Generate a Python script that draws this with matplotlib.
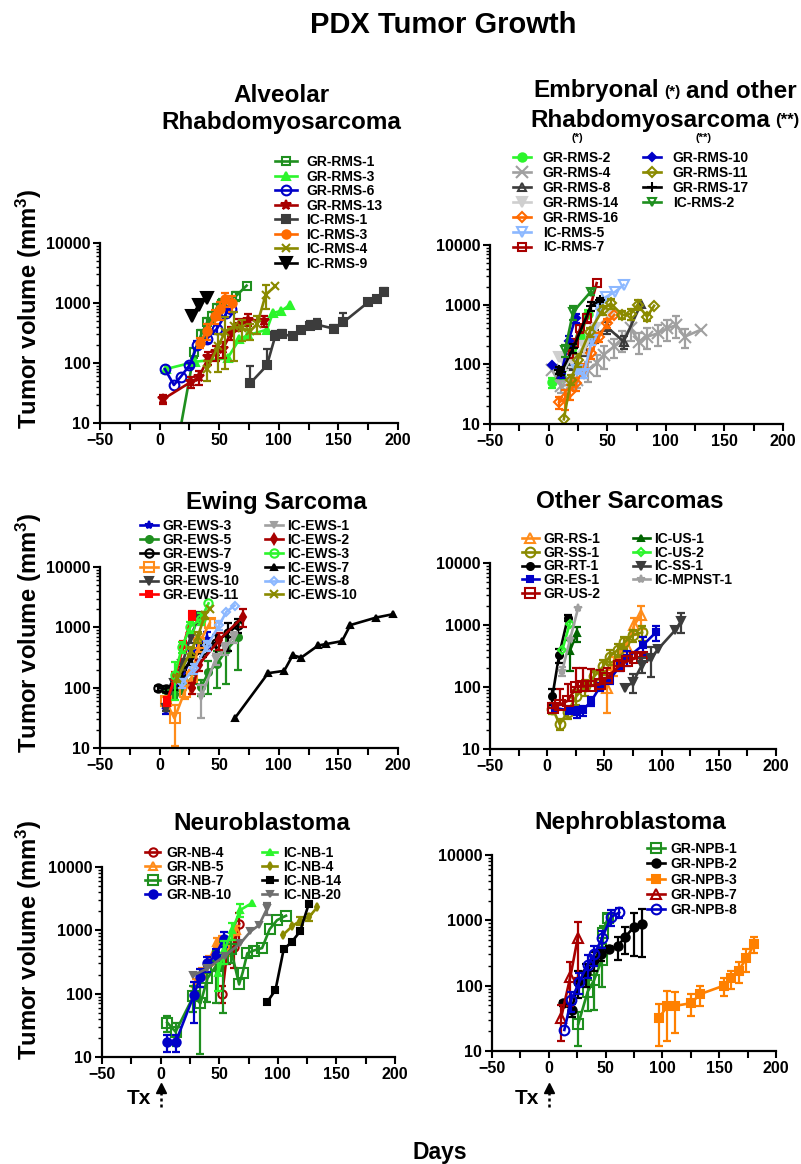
"""
PDX Tumor Growth - six panels of tumour volume vs days, log scale.
"""

import numpy as np
import matplotlib
matplotlib.use('Agg')
import matplotlib.pyplot as plt
import matplotlib.transforms as mtransforms
from matplotlib.ticker import MultipleLocator, FixedLocator, FixedFormatter, LogLocator, NullFormatter

plt.rcParams['font.family'] = ['Liberation Sans', 'DejaVu Sans']
plt.rcParams['font.weight'] = 'bold'
plt.rcParams['mathtext.fontset'] = 'custom'
plt.rcParams['mathtext.rm'] = 'Liberation Sans:bold'
plt.rcParams['mathtext.default'] = 'rm'

# ---------------- data ----------------
x_ticks = [-50, 0, 50, 100, 150, 200]
y_ticks = [10, 100, 1000, 10000]
y_tick_labels = ['10', '100', '1000', '10000']

# Alveolar rhabdomyosarcoma
arms_names = ['GR-RMS-1', 'GR-RMS-3', 'GR-RMS-6', 'GR-RMS-13', 'IC-RMS-1', 'IC-RMS-3', 'IC-RMS-4', 'IC-RMS-9']
arms_days = [
    [14, 29, 35, 40, 44, 48, 52, 64, 73],
    [5, 30, 57, 67, 74, 90, 95, 102, 109],
    [4.5, 12, 17.7, 25, 31.7, 39.5, 48, 56, 60],
    [3, 26, 33, 41, 47, 53, 60, 67, 74, 88],
    [76, 90, 97, 103, 112, 119, 126, 132, 146, 154, 175, 182, 188],
    [34, 39.5, 46.5, 51, 55, 60.5],
    [40, 49, 55, 62, 69, 76, 82, 89, 97],
    [27, 33, 40],
]
arms_vols = [
    [3.4, 150, 300, 480, 600, 830, 980, 1300, 1950],
    [79, 105, 120, 250, 290, 360, 680, 740, 920],
    [79, 43, 59, 91, 200, 253, 370, 680, 800],
    [25, 48, 58, 124, 150, 170, 320, 435, 530, 500],
    [46, 91, 280, 300, 280, 355, 410, 435, 375, 475, 1030, 1170, 1550],
    [218, 340, 600, 780, 1150, 1000],
    [80, 190, 330, 410, 380, 340, 450, 1380, 1900],
    [600, 940, 1200],
]
arms_errs = [
    [0, 30, 50, 80, 120, 150, 200, 200, 0],
    [0, 0, 0, 0, 0, 0, 0, 0, 0],
    [0, 0, 0, 10, 30, 40, 60, 100, 0],
    [4, 10, 15, 30, 40, 50, 80, 100, 120, 100],
    [43, 80, 60, 60, 30, 40, 90, 100, 60, 200, 0, 100, 250],
    [40, 100, 150, 250, 300, 300],
    [30, 120, 250, 300, 150, 100, 150, 600, 0],
    [0, 0, 0],
]

# Embryonal and other rhabdomyosarcoma
erms_names = ['GR-RMS-2', 'GR-RMS-4', 'GR-RMS-8', 'GR-RMS-14', 'GR-RMS-16', 'IC-RMS-5', 'IC-RMS-7',
              'GR-RMS-10', 'GR-RMS-11', 'GR-RMS-17', 'IC-RMS-2']
erms_days = [
    [3, 11, 20, 27, 34],
    [3, 11, 20, 24, 34, 41, 47, 56, 63, 70, 77, 84, 93, 101, 109, 116, 130],
    [11, 20, 30, 40, 50, 64, 79],
    [9, 14, 20, 30, 40, 53],
    [9, 14, 18, 23, 30, 36, 43, 50, 56],
    [24, 30, 37, 43, 49, 57, 64],
    [17, 22, 27, 33, 41],
    [3, 11, 17, 23],
    [13, 19, 25, 35, 46, 53, 63, 70, 76, 84, 90],
    [9, 11, 21, 36, 44],
    [14, 21, 36],
]
erms_vols = [
    [50, 62, 110, 300, 700],
    [79, 43, 48, 55, 80, 104, 145, 200, 258, 400, 240, 290, 330, 400, 455, 290, 380],
    [70, 100, 180, 300, 420, 240, 1040],
    [134, 100, 120, 200, 400, 700],
    [23, 27, 35, 48, 80, 152, 290, 490, 670],
    [80, 70, 257, 930, 1350, 1650, 2140],
    [150, 230, 400, 600, 2300],
    [98, 70, 250, 600],
    [12, 55, 120, 350, 810, 1050, 670, 700, 1000, 630, 960],
    [79, 75, 187, 940, 1200],
    [174, 760, 1650],
]
erms_errs = [
    [10, 10, 20, 50, 100],
    [0, 10, 10, 15, 30, 40, 60, 70, 100, 150, 90, 110, 130, 150, 180, 100, 0],
    [10, 20, 40, 70, 100, 60, 0],
    [0, 20, 30, 50, 80, 100],
    [5, 10, 10, 12, 20, 30, 50, 80, 0],
    [10, 10, 50, 100, 0, 0, 0],
    [20, 40, 60, 100, 0],
    [0, 10, 50, 100],
    [0, 10, 30, 60, 150, 200, 100, 150, 200, 100, 0],
    [10, 10, 30, 150, 100],
    [40, 200, 200],
]

# Ewing sarcoma
ews_names = ['GR-EWS-3', 'GR-EWS-5', 'GR-EWS-7', 'GR-EWS-9', 'GR-EWS-10', 'GR-EWS-11',
             'IC-EWS-1', 'IC-EWS-2', 'IC-EWS-3', 'IC-EWS-7', 'IC-EWS-8', 'IC-EWS-10']
ews_days = [
    [5, 12, 19, 27, 33, 40],
    [5, 12, 19, 27, 35, 41, 48, 56, 66],
    [-1, 5, 12, 19, 27, 36, 47, 57, 66],
    [5, 12.5, 21, 27, 33, 42],
    [5, 12, 19, 26, 33],
    [6, 13, 20, 27],
    [35, 47, 55, 62],
    [27.6, 33, 50, 70],
    [12.5, 19, 25.6, 35, 41],
    [63, 91, 104.5, 111.7, 118.8, 133, 140, 153, 160, 181.5, 195.7],
    [19, 29, 40, 50, 56, 63],
    [15, 26, 32, 38, 42],
]
ews_vols = [
    [45, 85, 150, 330, 520, 650],
    [92, 80, 100, 130, 104, 180, 250, 415, 700],
    [98, 96, 110, 180, 300, 420, 560, 800, 1100],
    [60, 31, 86, 150, 540, 1170],
    [46, 120, 250, 700, 1500],
    [59, 150, 500, 1600],
    [71, 300, 450, 700],
    [98, 240, 620, 1500],
    [162, 480, 1020, 1400, 2500],
    [31, 174, 190, 345, 315, 500, 530, 590, 1090, 1450, 1650],
    [120, 210, 500, 1090, 1810, 2300],
    [142, 400, 700, 1600, 2050],
]
ews_errs = [
    [8, 15, 30, 80, 150, 200],
    [10, 15, 20, 30, 30, 100, 150, 300, 500],
    [10, 10, 20, 40, 60, 100, 200, 400, 300],
    [10, 20, 20, 50, 150, 200],
    [5, 20, 50, 150, 300],
    [10, 30, 100, 300],
    [40, 60, 100, 150],
    [20, 50, 200, 500],
    [100, 100, 200, 300, 0],
    [0, 0, 0, 0, 0, 0, 0, 0, 0, 0, 0],
    [20, 40, 100, 200, 0, 0],
    [20, 80, 150, 200, 0],
]

# Other sarcomas
os_names = ['GR-RS-1', 'GR-SS-1', 'GR-RT-1', 'GR-ES-1', 'GR-US-2',
            'IC-US-1', 'IC-US-2', 'IC-SS-1', 'IC-MPNST-1']
os_days = [
    [52, 58, 64, 70, 76, 82],
    [4.6, 11, 18, 25.5, 33, 41, 49, 54.5, 62, 67.5, 75, 83],
    [4.6, 10.4, 18],
    [6.7, 19, 26, 31, 38.5, 46, 54.5, 64, 70, 84, 95],
    [5, 11, 18, 25, 31, 38, 46, 52, 63, 70, 77, 83],
    [19.7, 26],
    [13.3, 19.7],
    [68, 75, 83, 91, 97, 112, 117],
    [13, 20, 27],
]
os_vols = [
    [96, 230, 300, 450, 1000, 1450],
    [45, 25, 40, 71, 102, 148, 215, 310, 400, 525, 690, 760],
    [72, 325, 1300],
    [46, 42, 40, 42, 59, 100, 132, 220, 295, 480, 760],
    [46, 52, 60, 100, 102, 105, 110, 140, 220, 260, 290, 300],
    [380, 740],
    [400, 1050],
    [98, 120, 230, 295, 410, 830, 1150],
    [178, 590, 1870],
]
os_errs = [
    [58, 80, 100, 150, 300, 600],
    [8, 5, 10, 20, 30, 40, 60, 80, 100, 120, 150, 200],
    [20, 80, 150],
    [0, 5, 8, 8, 10, 15, 20, 40, 80, 150, 200],
    [10, 40, 50, 100, 100, 90, 80, 60, 50, 60, 80, 50],
    [200, 200],
    [0, 0],
    [0, 40, 60, 150, 0, 0, 400],
    [30, 0, 0],
]

# Neuroblastoma
nb_names = ['GR-NB-4', 'GR-NB-5', 'GR-NB-7', 'GR-NB-10', 'IC-NB-1', 'IC-NB-4', 'IC-NB-14', 'IC-NB-20']
nb_days = [
    [52.6, 57, 62.5, 67],
    [30, 35, 41, 48, 52, 57, 64],
    [5.7, 12.8, 28, 34, 40, 47, 53, 60, 67, 70, 74, 79.5, 86.6, 93, 99.4, 107],
    [5.7, 12.8, 28.4, 34, 40, 47, 54],
    [49, 54.5, 61, 68, 78],
    [104.5, 112, 119, 126.4, 133.5],
    [91, 98, 105, 112, 119, 126.4],
    [28, 40, 55, 68, 76.7, 84, 91],
]
nb_vols = [
    [100, 490, 550, 1260],
    [150, 210, 330, 650, 700, 500, 1000],
    [35, 25, 91, 70, 175, 270, 350, 500, 140, 215, 435, 480, 525, 1040, 1450, 1700],
    [17, 17, 95, 186, 300, 410, 740],
    [210, 490, 1000, 2100, 2700],
    [850, 1150, 1420, 1600, 2300],
    [74, 114, 500, 660, 960, 2600],
    [195, 250, 400, 620, 960, 1210, 2240],
]
nb_errs = [
    [30, 200, 300, 600],
    [20, 40, 60, 100, 100, 100, 150],
    [10, 10, 40, 59, 100, 200, 300, 200, 0, 0, 0, 0, 0, 0, 0, 0],
    [5, 5, 60, 60, 80, 100, 200],
    [100, 200, 300, 500, 0],
    [0, 0, 200, 200, 0],
    [0, 0, 0, 0, 0, 0],
    [0, 0, 0, 0, 0, 0, 500],
]

# Nephroblastoma
npb_names = ['GR-NPB-1', 'GR-NPB-2', 'GR-NPB-3', 'GR-NPB-7', 'GR-NPB-8']
npb_days = [
    [26, 34.2, 40, 46.5, 47.4, 51.8],
    [12.3, 20.2, 26, 32.7, 40, 46, 53.2, 60.5, 67, 74.6, 82],
    [97, 104.4, 110.8, 125.4, 133, 154, 160, 167, 174, 181],
    [10.8, 19, 25.4],
    [13.7, 19.6, 27, 34.2, 40, 46.8, 54.7, 62],
]
npb_vols = [
    [26, 81, 123, 245, 630, 1070],
    [54, 43, 115, 155, 245, 300, 365, 400, 550, 780, 870],
    [32, 49, 49, 54, 74, 100, 129, 170, 262, 435],
    [32, 138, 530],
    [21, 60, 115, 210, 300, 530, 1120, 1320],
]
npb_errs = [
    [14, 40, 80, 150, 200, 200],
    [5, 10, 50, 60, 80, 60, 40, 150, 250, 500, 600],
    [20, 35, 30, 20, 25, 30, 40, 60, 100, 120],
    [18, 90, 400],
    [0, 20, 40, 80, 100, 150, 300, 250],
]

# ---------------- styles ----------------
GREEN = '#1f8f1f'
LIME = '#2cf52c'
BLUE = '#0000c8'
DRED = '#a80000'
DGRAY = '#3c3c3c'
ORANGE = '#ff6a00'
LORANGE = '#ff8c1a'
OLIVE = '#8a8a00'
GRAY = '#a0a0a0'
LGRAY = '#cfcfcf'
LBLUE = '#8cb8ff'

# (colour, marker, hollow, size, upper error bar only)
arms_styles = [(GREEN, 's', True, 6, False), (LIME, '^', False, 6, False), (BLUE, 'o', True, 7, False),
               (DRED, '*', False, 7, False), (DGRAY, 's', False, 6, True), (ORANGE, 'o', False, 6, False),
               (OLIVE, 'x', False, 6, False), ('black', 'v', False, 8, False)]
erms_styles = [(LIME, 'o', False, 6, False), (GRAY, 'x', False, 8, False), (DGRAY, '^', True, 6, False),
               (LGRAY, 'v', False, 7, False), (ORANGE, 'D', True, 5, False), (LBLUE, 'v', True, 7, False),
               (DRED, 's', True, 6, False), (BLUE, 'D', False, 4, False), (OLIVE, 'D', True, 5, False),
               ('black', '+', False, 7, False), (GREEN, 'v', True, 6, False)]
ews_styles = [(BLUE, '*', False, 6, False), (GREEN, 'o', False, 5, False), ('black', 'o', True, 6, False),
              (LORANGE, 's', True, 7, False), (DGRAY, 'v', False, 6, False), ('#ff0000', 's', False, 4, False),
              (GRAY, 'v', False, 5, False), (DRED, 'd', False, 5, False), (LIME, 'o', True, 6, False),
              ('black', '^', False, 5, False), (LBLUE, 'D', True, 4, False), (OLIVE, 'x', False, 6, False)]
os_styles = [(LORANGE, '^', True, 7, False), (OLIVE, 'o', True, 7, False), ('black', 'o', False, 5, False),
             (BLUE, 's', False, 4, False), (DRED, 's', True, 7, True), ('#006400', '^', False, 5, False),
             (LIME, 'D', True, 4, False), (DGRAY, 'v', False, 6, False), (GRAY, '*', False, 6, False)]
nb_styles = [(DRED, 'o', True, 6, False), (LORANGE, '^', True, 6, False), (GREEN, 's', True, 7, False),
             (BLUE, 'o', False, 6, False), (LIME, '^', False, 5, False), (OLIVE, 'd', False, 4, False),
             ('black', 's', False, 5, False), ('#6e6e6e', 'v', False, 5, False)]
npb_styles = [(GREEN, 's', True, 7, False), ('black', 'o', False, 6, False), ('#ff8000', 's', False, 6, False),
              (DRED, '^', True, 7, False), (BLUE, 'o', True, 7, False)]

W, H = 801, 1164
fig = plt.figure(figsize=(W / 100, H / 100), dpi=100)


def fx(px):
    return px / W


def fy(py):
    return 1 - py / H


def draw_panel(rect, names, days, vols, errs, styles, legend_cols, spacing, hlen, hpad):
    l, t, r, b = rect
    ax = fig.add_axes([fx(l), fy(b), fx(r - l), (b - t) / H])
    handles = []
    for i, name in enumerate(names):
        c, m, hollow, ms, upper_only = styles[i]
        x = np.array(days[i], dtype=float)
        y = np.array(vols[i], dtype=float)
        e = np.array(errs[i], dtype=float)
        keep = e > 0
        if keep.any():
            lower = np.zeros(keep.sum()) if upper_only else np.minimum(e[keep], y[keep] * 0.999)
            ax.errorbar(x[keep], y[keep], yerr=[lower, e[keep]], fmt='none', ecolor=c,
                        elinewidth=1.6, capsize=3, capthick=1.6, zorder=2 + i * 0.01)
        line, = ax.plot(x, y, color=c, marker=m, ms=ms, mec=c,
                        mfc='none' if hollow else c, mew=1.5, lw=1.9, label=name,
                        zorder=2 + i * 0.01)
        handles.append(line)

    ax.set_yscale('log')
    ax.set_xlim(-50, 200)
    ax.set_ylim(10, 10000)
    ax.xaxis.set_major_locator(FixedLocator(x_ticks))
    ax.xaxis.set_minor_locator(MultipleLocator(25))
    ax.yaxis.set_major_locator(FixedLocator(y_ticks))
    ax.yaxis.set_major_formatter(FixedFormatter(y_tick_labels))
    ax.yaxis.set_minor_locator(LogLocator(base=10, subs=np.arange(2, 10)))
    ax.yaxis.set_minor_formatter(NullFormatter())
    for s in ['top', 'right']:
        ax.spines[s].set_visible(False)
    for s in ['left', 'bottom']:
        ax.spines[s].set_linewidth(1.6)
    ax.tick_params(axis='both', which='major', length=5, width=1.5, labelsize=11.5, pad=2)
    ax.tick_params(axis='x', which='minor', length=5, width=1.5)
    ax.tick_params(axis='y', which='minor', length=3, width=1.0)

    for i0, i1, lx, ly in legend_cols:
        fig.legend(handles=handles[i0:i1], loc='upper left', bbox_to_anchor=(fx(lx), fy(ly)),
                   frameon=False, fontsize=10, handlelength=hlen, handletextpad=hpad,
                   borderpad=0, borderaxespad=0, labelspacing=spacing, numpoints=1)
    return ax


ax1 = draw_panel((100, 243, 398, 423), arms_names, arms_days, arms_vols, arms_errs, arms_styles,
                 [(0, 8, 275, 155)], 0.04, 1.6, 0.65)
ax2 = draw_panel((490, 245, 783, 424), erms_names, erms_days, erms_vols, erms_errs, erms_styles,
                 [(0, 7, 513, 151), (7, 11, 643, 151)], 0.065, 1.3, 0.85)
ax3 = draw_panel((100, 567, 398, 748), ews_names, ews_days, ews_vols, ews_errs, ews_styles,
                 [(0, 6, 140, 519), (6, 12, 265, 519)], -0.01, 1.3, 0.3)
ax4 = draw_panel((490, 563, 776, 749), os_names, os_days, os_vols, os_errs, os_styles,
                 [(0, 5, 522, 532), (5, 9, 633, 532)], -0.02, 1.2, 0.35)
ax5 = draw_panel((102, 867, 395, 1057), nb_names, nb_days, nb_vols, nb_errs, nb_styles,
                 [(0, 4, 145, 846), (4, 8, 262, 846)], -0.01, 1.1, 0.45)
ax6 = draw_panel((492, 855, 776, 1051), npb_names, npb_days, npb_vols, npb_errs, npb_styles,
                 [(0, 5, 647, 842)], 0.09, 1.3, 0.35)

# Titles
fig.text(fx(443), fy(25), 'PDX Tumor Growth', ha='center', va='center', fontsize=21, fontweight='bold')
fig.text(fx(281), fy(95), 'Alveolar', ha='center', va='center', fontsize=17.5)
fig.text(fx(281), fy(123), 'Rhabdomyosarcoma', ha='center', va='center', fontsize=17.5)
fig.text(fx(533), fy(91), 'Embryonal', ha='left', va='center', fontsize=17.5)
fig.text(fx(664), fy(92), '(*)', ha='left', va='center', fontsize=11)
fig.text(fx(686), fy(91), 'and other', ha='left', va='center', fontsize=17.5)
fig.text(fx(530), fy(120), 'Rhabdomyosarcoma', ha='left', va='center', fontsize=17.5)
fig.text(fx(775), fy(120), '(**)', ha='left', va='center', fontsize=12)
fig.text(fx(577), fy(138), '(*)', ha='center', va='center', fontsize=8)
fig.text(fx(703), fy(138), '(**)', ha='center', va='center', fontsize=8)
fig.text(fx(276), fy(502), 'Ewing Sarcoma', ha='center', va='center', fontsize=17.5)
fig.text(fx(630), fy(502), 'Other Sarcomas', ha='center', va='center', fontsize=17.5)
fig.text(fx(262), fy(823), 'Neuroblastoma', ha='center', va='center', fontsize=17.5)
fig.text(fx(630), fy(823), 'Nephroblastoma', ha='center', va='center', fontsize=17.5)

# Y labels for the left column
for yc in [309, 633, 940]:
    fig.text(fx(29), fy(yc), 'Tumor volume (mm$^3$)', rotation=90, ha='center', va='center', fontsize=17.2)

fig.text(fx(440), fy(1152), 'Days', ha='center', va='center', fontsize=16.5)

# Treatment start markers below the bottom panels
for ax in [ax5, ax6]:
    trans = mtransforms.blended_transform_factory(ax.transData, fig.transFigure)
    ax.plot([0, 0], [fy(1107), fy(1091)], ls=(0, (1.2, 1.2)), color='black', lw=1.8,
            transform=trans, clip_on=False)
    ax.plot([0], [fy(1088)], marker='^', color='black', ms=7, transform=trans, clip_on=False)
    ax.annotate('Tx', xy=(0, fy(1099)), xycoords=trans, xytext=(-7, 0), textcoords='offset points',
                ha='right', va='center', fontsize=15)

fig.savefig('out.png', dpi=100)
